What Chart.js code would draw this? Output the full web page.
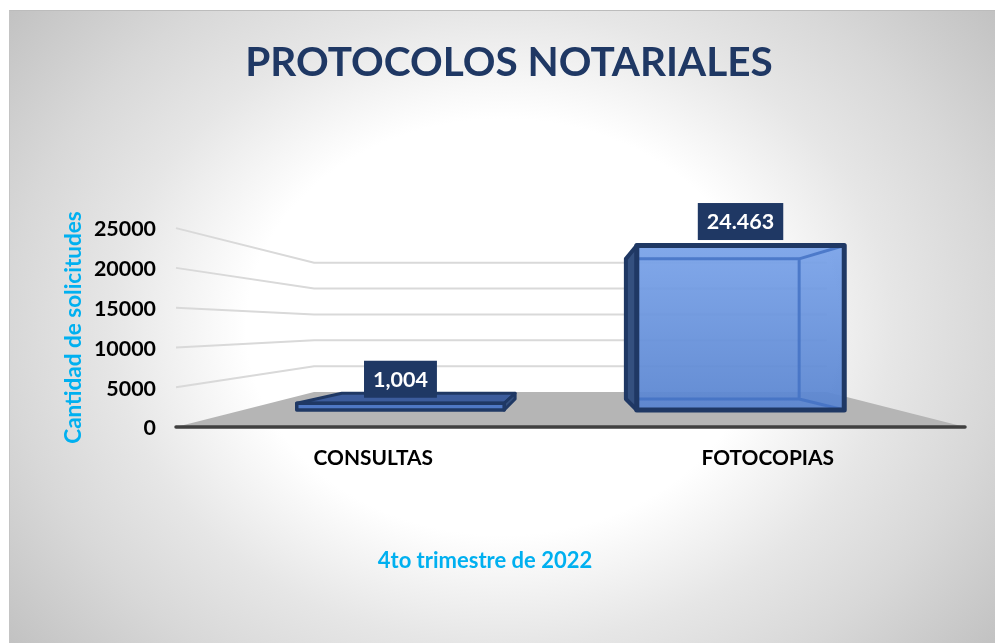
<!DOCTYPE html>
<html lang="es">
<head>
<meta charset="utf-8">
<title>Protocolos notariales</title>
<style>
html,body{margin:0;padding:0;width:995px;height:643px;overflow:hidden;background:#fff}
#panel{position:absolute;left:9px;top:10px;width:985px;height:632px;border-top:1px solid #bcbcbc;border-left:1px solid #c4c4c4;
background:radial-gradient(640px 520px at 50% 50%,#fff 0%,#fff 40%,#e6e6e6 61%,#d8d8d8 77%,#c0c0c0 100%)}
canvas{position:absolute;left:0;top:0}
</style>
<script src="https://cdn.jsdelivr.net/npm/chart.js@4"></script>
</head>
<body>
<div id="panel"></div>
<canvas id="c" width="995" height="643"></canvas>
<script>
const categories = ['CONSULTAS', 'FOTOCOPIAS'];
const values = [1004, 24463];
const valueLabels = ['1,004', '24.463'];
const yTicks = [0, 5000, 10000, 15000, 20000, 25000];
const chartTitle = 'PROTOCOLOS NOTARIALES';
const xAxisTitle = '4to trimestre de 2022';
const yAxisTitle = 'Cantidad de solicitudes';

const NAVY = '#1f3864', CYAN = '#00b0f0';
const FONT = 'Lato, Carlito, Calibri, sans-serif';

// Perspective of the 3-D frame: each depth plane rises and shrinks towards the back wall.
const RISE = 35;
const WALL_FRONT = { rise: 0, sx: 1, sy: 1 };
const WALL_BACK = { rise: 1, sx: 0.65, sy: 0.65 };
const BAR_FRONT = { rise: 0.486, sx: 0.862, sy: 0.845 };
const BAR_BACK = { rise: 0.8, sx: 0.72, sy: 0.72 };
function projector(chart) {
  const a = chart.chartArea, cx = (a.left + a.right) / 2;
  return (x, y, d) => [cx + (x - cx) * d.sx, a.bottom - RISE * d.rise - (a.bottom - y) * d.sy];
}
function poly(ctx, pts) {
  ctx.beginPath();
  pts.forEach((p, i) => i ? ctx.lineTo(p[0], p[1]) : ctx.moveTo(p[0], p[1]));
  ctx.closePath();
}

const frame3d = {
  id: 'frame3d',
  afterLayout(chart) {
    const head = chart.boxes.find(b => b.options && b.options.text === chartTitle);
    if (head) { head.left = 23; head.right = 995; }   // title centred on x = 509
    const note = chart.boxes.find(b => b.options && b.options.text === xAxisTitle);
    if (note) note.right = 970;                       // note centred on x = 485
  },
  beforeDatasetsDraw(chart) {
    const { ctx, chartArea: a, scales: { y } } = chart, P = projector(chart);
    ctx.save();
    // grid
    ctx.strokeStyle = '#d9d9d9'; ctx.lineWidth = 2;
    yTicks.slice(1).forEach(v => {
      const py = y.getPixelForValue(v);
      const p0 = P(a.left, py, WALL_FRONT), p1 = P(a.left, py, WALL_BACK), p2 = P(a.right, py, WALL_BACK);
      ctx.beginPath(); ctx.moveTo(p0[0], p0[1]); ctx.lineTo(p1[0], p1[1]); ctx.lineTo(p2[0], p2[1]); ctx.stroke();
    });
    // floor
    const b = a.bottom;
    poly(ctx, [P(a.left, b, WALL_FRONT), P(a.left, b, WALL_BACK), P(a.right, b, WALL_BACK), P(a.right, b, WALL_FRONT)]);
    ctx.fillStyle = '#b5b5b5'; ctx.fill();
    // axis line
    ctx.strokeStyle = '#404040'; ctx.lineWidth = 3.5; ctx.lineCap = 'round';
    ctx.beginPath(); ctx.moveTo(a.left, b); ctx.lineTo(a.right, b); ctx.stroke();
    ctx.restore();
  },
  beforeDatasetDraw(chart, args) {
    const { ctx } = chart, P = projector(chart);
    args.meta.data.forEach(bar => {
      const l = bar.x - bar.width / 2, r = bar.x + bar.width / 2, t = bar.y, bs = bar.base;
      const fTL = P(l, t, BAR_FRONT), fTR = P(r, t, BAR_FRONT), fBR = P(r, bs, BAR_FRONT), fBL = P(l, bs, BAR_FRONT);
      const bTL = P(l, t, BAR_BACK), bTR = P(r, t, BAR_BACK), bBR = P(r, bs, BAR_BACK), bBL = P(l, bs, BAR_BACK);
      ctx.save();
      ctx.lineJoin = 'round';
      // side faces
      const side = bBL[0] < fBL[0] ? [bTL, fTL, fBL, bBL] : [fTR, bTR, bBR, fBR];
      const tall = bTL[1] > fTL[1];
      if (!tall) {
        poly(ctx, [bTL, bTR, fTR, fTL]);
        ctx.fillStyle = '#3c5c9c'; ctx.fill();
        ctx.strokeStyle = NAVY; ctx.lineWidth = 3; ctx.stroke();
      }
      poly(ctx, side);
      ctx.fillStyle = '#34507f'; ctx.fill();
      ctx.strokeStyle = NAVY; ctx.lineWidth = tall ? 4 : 3; ctx.stroke();
      // front face
      const g = ctx.createLinearGradient(0, fTL[1], 0, fBL[1]);
      g.addColorStop(0, tall ? 'rgba(122,163,233,0.94)' : '#4f78c4');
      g.addColorStop(1, tall ? 'rgba(90,133,208,0.94)' : '#4f78c4');
      poly(ctx, [fTL, fTR, fBR, fBL]);
      ctx.fillStyle = g; ctx.fill();
      if (tall) {
        // inner back edges seen through the translucent box
        ctx.strokeStyle = 'rgba(68,114,196,0.85)'; ctx.lineWidth = 3;
        ctx.beginPath();
        ctx.moveTo(fTL[0], bTL[1]); ctx.lineTo(bTR[0], bTR[1]); ctx.lineTo(bBR[0], bBR[1]); ctx.lineTo(fBL[0], bBL[1]);
        ctx.moveTo(bTR[0], bTR[1]); ctx.lineTo(fTR[0], fTR[1]);
        ctx.moveTo(bBR[0], bBR[1]); ctx.lineTo(fBR[0], fBR[1]);
        ctx.stroke();
      }
      poly(ctx, [fTL, fTR, fBR, fBL]);
      ctx.strokeStyle = NAVY; ctx.lineWidth = tall ? 5 : 3.5; ctx.stroke();
      ctx.restore();
    });
    return false;
  },
  afterDatasetsDraw(chart) {
    const { ctx } = chart, P = projector(chart);
    const bars = chart.getDatasetMeta(0).data;
    ctx.save();
    ctx.font = 'bold 21.5px ' + FONT;
    ctx.textAlign = 'center'; ctx.textBaseline = 'middle';
    bars.forEach((bar, i) => {
      const top = P(bar.x, bar.y, BAR_FRONT);
      const w = ctx.measureText(valueLabels[i]).width + 18, h = 37;
      const bottom = top[1] - 5.5;
      ctx.fillStyle = NAVY; ctx.fillRect(top[0] - w / 2, bottom - h, w, h);
      ctx.fillStyle = '#fff'; ctx.fillText(valueLabels[i], top[0], bottom - h / 2 + 1);
    });
    ctx.restore();
  }
};

new Chart(document.getElementById('c'), {
  type: 'bar',
  data: {
    labels: categories,
    datasets: [{ data: values, backgroundColor: '#6f97dd', borderColor: NAVY, barPercentage: 0.61, categoryPercentage: 1 }]
  },
  plugins: [frame3d],
  options: {
    responsive: false,
    animation: false,
    layout: { autoPadding: false, padding: { left: 0, right: 30, top: 0, bottom: 0 } },
    plugins: {
      legend: { display: false },
      tooltip: { enabled: false },
      title: {
        display: true, text: chartTitle, color: NAVY,
        font: { family: FONT, size: 40.5, weight: 'bold', lineHeight: 1.2 },
        padding: { top: 38.5, bottom: 141 }
      },
      subtitle: {
        display: true, position: 'bottom', text: xAxisTitle, color: CYAN,
        font: { family: FONT, size: 22, weight: 'bold', lineHeight: 1.2 },
        padding: { top: 0, bottom: 69 }
      }
    },
    scales: {
      x: {
        grid: { display: false }, border: { display: false },
        ticks: { color: '#000', font: { family: FONT, size: 20.9, weight: 'bold' }, padding: 11, maxRotation: 0, autoSkip: false },
        afterFit(s) { s.height = 216 - 95.4; }
      },
      y: {
        min: 0, max: 25000,
        grid: { display: false }, border: { display: false },
        afterBuildTicks(s) { s.ticks = yTicks.map(v => ({ value: v })); },
        ticks: { color: '#000', font: { family: FONT, size: 21.4, weight: 'bold' }, padding: 12, labelOffset: 1.5, callback: v => String(v) },
        title: { display: true, text: yAxisTitle, color: CYAN, font: { family: FONT, size: 22.5, weight: 'bold' }, padding: { top: 60, bottom: 0 } },
        afterFit(s) { s.width = 176; }
      }
    }
  }
});
</script>
</body>
</html>
